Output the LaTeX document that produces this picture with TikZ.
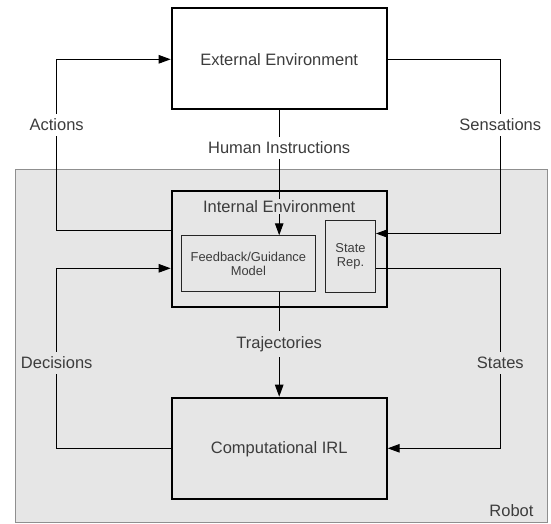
\documentclass[tikz,border=0pt]{standalone}
\usepackage{fontspec}
\setmainfont{Liberation Sans}
\usetikzlibrary{arrows.meta}
\definecolor{txt}{HTML}{3C3C3C}
\definecolor{robotfill}{HTML}{E6E6E6}
\definecolor{robotdraw}{HTML}{8F8F8F}
\begin{document}
\begin{tikzpicture}[x=1pt,y=-1pt,
  bigbox/.style={draw=black,line width=2pt,rectangle,inner sep=0pt},
  smallbox/.style={draw=black!85,line width=0.9pt,rectangle,inner sep=0pt,align=center,text=txt,font=\fontsize{12.9}{14}\selectfont},
  bigtext/.style={text=txt,font=\fontsize{16.5}{19}\selectfont},
  conn/.style={draw=black,line width=1pt},
  arr/.style={conn,-{Triangle[length=12pt,width=8.5pt]}},
  lblw/.style={bigtext,fill=white,inner xsep=2pt,inner ysep=5pt},
  lblg/.style={bigtext,fill=robotfill,inner xsep=2pt,inner ysep=5pt}]
\useasboundingbox (0,0) rectangle (551,523);
% robot region
\node[draw=robotdraw,fill=robotfill,line width=1pt,minimum width=532pt,minimum height=353pt,inner sep=0pt] (robot) at (281,345.5) {};
\node[bigtext,anchor=east] (robotlbl) at (537,510.7) {Robot};
% boxes
\node[bigbox,minimum width=215pt,minimum height=101pt] (ext) at (279.2,58.9) {};
\node[bigtext] (exttxt) at (279.2,59.3) {External Environment};
\node[bigbox,minimum width=215pt,minimum height=116.6pt] (int) at (279.2,249) {};
\node[smallbox,minimum width=133.3pt,minimum height=56pt] (fb) at (248.35,263.7) {Feedback/Guidance\\Model};
\node[smallbox,minimum width=50pt,minimum height=71.6pt] (sr) at (350.5,256.5) {State\\Rep.};
\node[bigbox,minimum width=215pt,minimum height=101pt] (comp) at (279.2,448.2) {};
\node[bigtext] (comptxt) at (279.2,449) {Computational IRL};
% corner coordinates
\coordinate (aBot) at (56.7,230);
\coordinate (aTop) at (56.7,59.3);
\coordinate (sTop) at (500.3,59.3);
\coordinate (sBot) at (500.3,233.5);
\coordinate (dBot) at (56.7,448.3);
\coordinate (dTop) at (56.7,268.3);
\coordinate (tTop) at (500.3,268.7);
\coordinate (tBot) at (500.3,448.3);
% connectors
\draw[arr] (int.west |- aBot) -- (aBot) -- (aTop) -- (ext.west |- aTop);
\draw[arr] (ext.east |- sTop) -- (sTop) -- (sBot) -- (sr.east |- sBot);
\draw[arr] (ext.south) -- (ext.south |- fb.north);
\draw[arr] (ext.south |- fb.south) -- (comp.north);
\draw[arr] (comp.west |- dBot) -- (dBot) -- (dTop) -- (int.west |- dTop);
\draw[arr] (sr.east |- tTop) -- (tTop) -- (tBot) -- (comp.east |- tBot);
% labels
\node[bigtext,fill=robotfill,inner xsep=1pt,inner ysep=1.5pt] (inttxt) at (279.2,206.5) {Internal Environment};
\node[lblw] (lact) at (56.7,125) {Actions};
\node[lblw] (lsen) at (500.3,125) {Sensations};
\node[lblw] (lhum) at (279.2,148) {Human Instructions};
\node[lblg] (ltra) at (279.2,344) {Trajectories};
\node[lblg] (ldec) at (56.7,362.7) {Decisions};
\node[lblg] (lsta) at (500.3,362.7) {States};
\end{tikzpicture}
\end{document}
